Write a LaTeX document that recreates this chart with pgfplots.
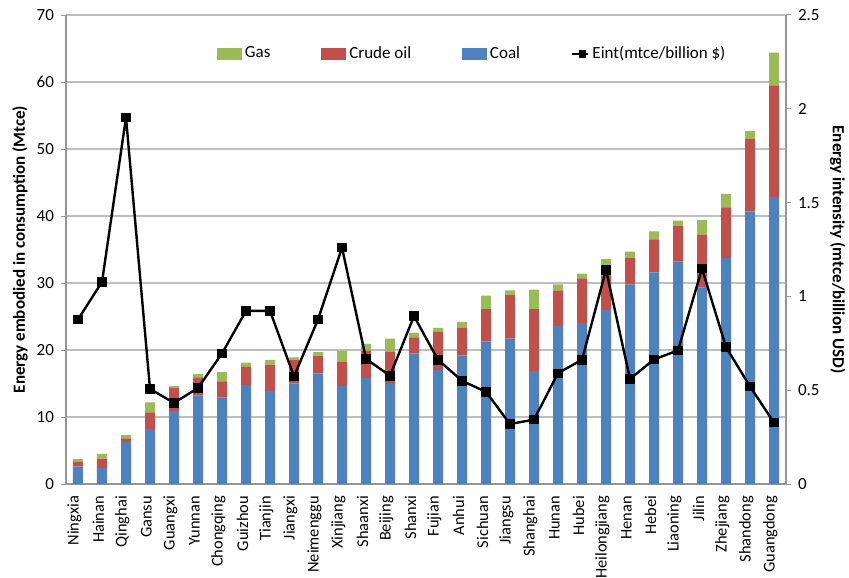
\documentclass[border=0pt]{standalone}
\usepackage{pgfplots}
\usepackage{pgfplotstable}
\pgfplotsset{compat=1.18}
\usepackage{fontspec}
\setmainfont{Carlito}

\definecolor{coalblue}{RGB}{79,129,189}
\definecolor{oilred}{RGB}{192,80,77}
\definecolor{gasgreen}{RGB}{155,187,89}
\definecolor{gridgray}{RGB}{190,190,190}
\definecolor{axisgray}{RGB}{150,150,150}

% idx  coal  oil  gas  (Mtce), eint (mtce/billion USD)
\pgfplotstableread{
idx coal oil  gas eint
0   2.6  0.7  0.4 0.877
1   2.4  1.4  0.7 1.077
2   6.3  0.5  0.5 1.954
3   8.2  2.5  1.5 0.507
4   10.9 3.4  0.3 0.432
5   13.2 2.7  0.5 0.512
6   12.9 2.4  1.4 0.696
7   14.8 2.7  0.6 0.923
8   13.9 3.9  0.7 0.923
9   15.0 3.5  0.4 0.573
10  16.5 2.6  0.6 0.877
11  14.6 3.6  1.7 1.260
12  15.8 4.1  1.0 0.667
13  14.9 4.8  2.0 0.577
14  19.5 2.4  0.7 0.895
15  17.0 5.7  0.6 0.662
16  19.2 4.1  0.9 0.550
17  21.3 4.8  2.0 0.491
18  21.7 6.5  0.7 0.320
19  16.9 9.2  2.9 0.343
20  23.6 5.3  0.9 0.591
21  24.0 6.7  0.7 0.662
22  26.0 6.4  1.2 1.142
23  29.8 3.9  1.0 0.560
24  31.6 4.9  1.2 0.664
25  33.2 5.3  0.8 0.712
26  29.3 7.9  2.2 1.148
27  33.7 7.6  2.0 0.730
28  40.7 10.8 1.2 0.520
29  42.8 16.7 4.9 0.327
}\energydata

\pgfplotsset{
  common/.style={
    scale only axis, width=360pt, height=234.5pt,
    xmin=-0.5, xmax=29.5,
    at={(0,0)}, anchor=south west,
    tick label style={font=\fontsize{8.5}{10}\selectfont},
    label style={font=\bfseries\fontsize{8.5}{10}\selectfont},
    /pgf/number format/assume math mode=true,
    tick align=outside,
    major tick length=2.5pt,
    every tick/.style={axisgray, line width=0.5pt},
  },
  swatch/.style={legend image code/.code={\fill[#1] (0pt,-2.6pt) rectangle (12pt,2.6pt);}},
  linelegend/.style={legend image code/.code={\draw[##1, mark repeat=2, mark phase=2, mark size=1.6pt] plot coordinates {(0pt,0pt) (5pt,0pt) (8pt,0pt)};}},
}

\begin{document}
\begin{tikzpicture}
\path[use as bounding box] (-33pt,-46.5pt) rectangle (391.5pt,242pt);

% stacked energy bars (left axis)
\begin{axis}[common,
  ybar stacked, bar width=5pt,
  ymin=0, ymax=70, ytick={0,10,...,70},
  axis y line*=left, axis x line*=bottom,
  axis line style={axisgray, line width=0.6pt},
  ymajorgrids, grid style={gridgray, line width=0.6pt},
  xtick={0,...,29},
  xticklabels={Ningxia,Hainan,Qinghai,Gansu,Guangxi,Yunnan,Chongqing,Guizhou,Tianjin,Jiangxi,Neimenggu,Xinjiang,Shaanxi,Beijing,Shanxi,Fujian,Anhui,Sichuan,Jiangsu,Shanghai,Hunan,Hubei,Heilongjiang,Henan,Hebei,Liaoning,Jilin,Zhejiang,Shandong,Guangdong},
  x tick label style={rotate=90, anchor=east, font=\fontsize{8.2}{10}\selectfont},
  xtick style={draw=none},
  minor xtick={-0.5,0.5,...,29.5},
  minor tick length=3pt,
  xticklabel style={yshift=1.8pt},
  ylabel={Energy embodied in consumption (Mtce)},
  ylabel style={at={(axis description cs:-0.064,0.5)}, anchor=center},
]
\addplot[fill=coalblue, draw=none] table[x=idx, y=coal] {\energydata};
\addplot[fill=oilred, draw=none] table[x=idx, y=oil] {\energydata};
\addplot[fill=gasgreen, draw=none] table[x=idx, y=gas] {\energydata};
\end{axis}

% energy intensity line (right axis)
\begin{axis}[common,
  ymin=0, ymax=2.5, ytick={0,0.5,...,2.5},
  axis y line*=right, axis x line=none,
  axis line style={axisgray, line width=0.6pt},
  ylabel={Energy intensity (mtce/billion USD)},
  ylabel style={at={(axis description cs:1.072,0.5)}, anchor=center, rotate=180},
  legend columns=4,
  legend style={draw=none, fill=none, at={(0.565,0.917)}, anchor=center,
    font=\fontsize{8.5}{10}\selectfont,
    /tikz/every even column/.append style={column sep=24pt},
    nodes={inner xsep=1.5pt}},
  legend cell align=left,
]
\addlegendimage{swatch=gasgreen}
\addlegendentry{Gas}
\addlegendimage{swatch=oilred}
\addlegendentry{Crude oil}
\addlegendimage{swatch=coalblue}
\addlegendentry{Coal}
\addplot[black, line width=1.2pt, line join=round, mark=square*, mark size=2.1pt,
  mark options={solid, line width=0.4pt}, linelegend]
  table[x=idx, y=eint] {\energydata};
\addlegendentry{Eint(mtce/billion \$)}
\end{axis}
\end{tikzpicture}
\end{document}
